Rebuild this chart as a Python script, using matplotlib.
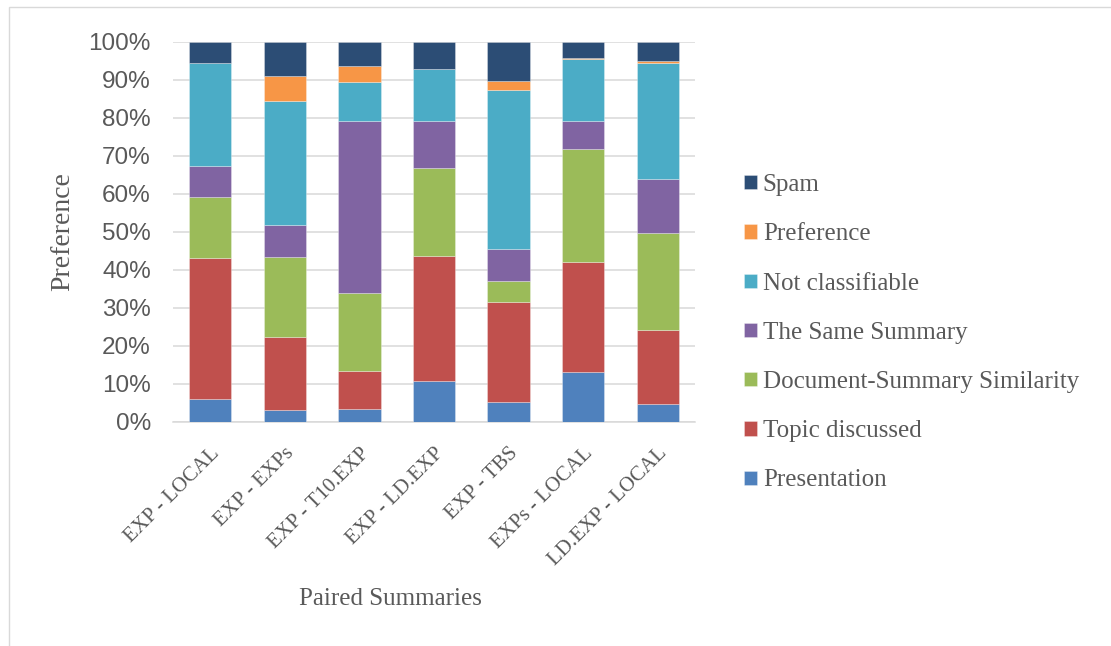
import matplotlib
matplotlib.use("Agg")
import matplotlib.pyplot as plt
from matplotlib.patches import Rectangle
from matplotlib.ticker import PercentFormatter
import numpy as np

# Paired summary comparisons and the share of each judgement reason (%)
pairs = ["EXP - LOCAL", "EXP - EXPs", "EXP - T10.EXP", "EXP - LD.EXP",
         "EXP - TBS", "EXPs - LOCAL", "LD.EXP - LOCAL"]

presentation = [5.9, 3.2, 3.3, 10.6, 5.3, 13.0, 4.6]
topic_discussed = [37.3, 19.0, 10.0, 33.1, 26.3, 29.1, 19.5]
doc_summary_similarity = [15.9, 21.2, 20.5, 23.1, 5.4, 29.7, 25.6]
same_summary = [8.3, 8.5, 45.5, 12.3, 8.5, 7.3, 14.3]
not_classifiable = [27.0, 32.6, 10.1, 13.7, 41.9, 16.5, 30.6]
preference = [0.2, 6.5, 4.2, 0.0, 2.2, 0.1, 0.6]
spam = [5.4, 9.0, 6.4, 7.2, 10.4, 4.3, 4.9]

series = [
    ("Presentation", presentation, "#4F81BD"),
    ("Topic discussed", topic_discussed, "#C0504D"),
    ("Document-Summary Similarity", doc_summary_similarity, "#9BBB59"),
    ("The Same Summary", same_summary, "#8064A2"),
    ("Not classifiable", not_classifiable, "#4BACC6"),
    ("Preference", preference, "#F79646"),
    ("Spam", spam, "#2C4D75"),
]

TEXT = "#595959"
GRID = "#D9D9D9"
SERIF = ["Liberation Serif", "DejaVu Serif"]
SANS = ["Liberation Sans", "DejaVu Sans"]

W, H = 1111, 646
fig = plt.figure(figsize=(W / 100, H / 100), dpi=100)
fig.patch.set_facecolor("white")

# outer chart-area frame
fig.patches.append(Rectangle((9 / W, -0.05), 1.2, 1 - 7 / H + 0.05,
                             transform=fig.transFigure, fill=False,
                             edgecolor=GRID, linewidth=1.0))

ax = fig.add_axes([173 / W, 1 - 421.7 / H, (695 - 173) / W, (421.7 - 42) / H])

# 100% stacked columns
totals = np.sum([np.array(v) for _, v, _ in series], axis=0)
x = np.arange(len(pairs))
bottom = np.zeros(len(pairs))
handles = []
for name, vals, color in series:
    share = np.array(vals) / totals * 100
    b = ax.bar(x, share, width=0.567, bottom=bottom, color=color,
               edgecolor=(1, 1, 1, 0.35), linewidth=0.6, label=name, zorder=3)
    handles.append(b)
    bottom += share

ax.set_xlim(-0.5, len(pairs) - 0.5)
ax.set_ylim(0, 100)
ax.set_yticks(np.arange(0, 101, 10))
ax.yaxis.set_major_formatter(PercentFormatter(decimals=0))
ax.grid(axis="y", color=GRID, linewidth=1.1, zorder=0)
ax.set_axisbelow(True)
for s in ["top", "right", "left"]:
    ax.spines[s].set_visible(False)
ax.spines["bottom"].set_color(GRID)
ax.spines["bottom"].set_linewidth(1.1)

ax.tick_params(axis="y", length=0, pad=16, labelsize=17.5, labelcolor=TEXT)
ax.tick_params(axis="x", length=0, pad=16, labelsize=15, labelcolor=TEXT)
for lab in ax.get_yticklabels():
    lab.set_family(SANS)
ax.set_xticks(x)
ax.set_xticklabels(pairs, rotation=45, ha="right", rotation_mode="anchor",
                   family=SERIF)

fig.text(63 / W, 1 - 232 / H, "Preference", rotation=90, ha="center",
         va="center", fontsize=20, color=TEXT, family=SERIF)
fig.text(390 / W, 1 - 599 / H, "Paired Summaries", ha="center",
         va="center", fontsize=18, color=TEXT, family=SERIF)

leg = fig.legend(handles[::-1], [s[0] for s in series][::-1],
                 loc="upper left", bbox_to_anchor=(744 / W, 1 - 174 / H),
                 frameon=False, handlelength=0.5, handleheight=0.5,
                 handletextpad=0.25, labelspacing=1.09, borderaxespad=0,
                 borderpad=0, prop={"family": SERIF, "size": 18})
for t in leg.get_texts():
    t.set_color(TEXT)

fig.savefig("out.png", dpi=100, facecolor="white")
